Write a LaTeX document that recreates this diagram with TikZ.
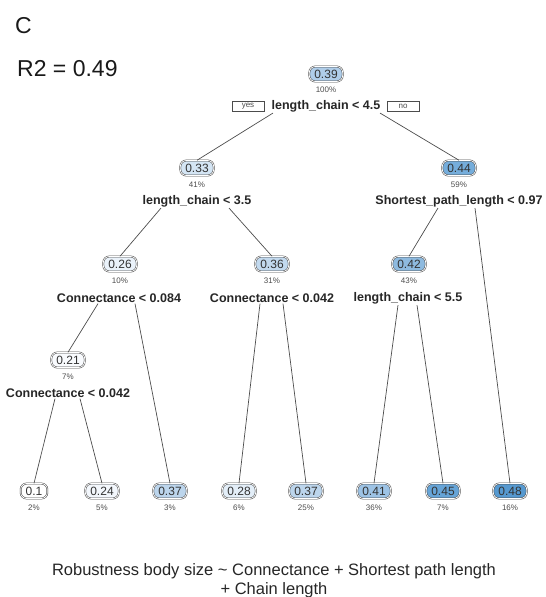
\documentclass[tikz,border=0pt]{standalone}
\usepackage{fontspec}
\setmainfont{Liberation Sans}
\usetikzlibrary{calc}
\definecolor{cA}{HTML}{FFFFFF}
\definecolor{cB}{HTML}{F9FBFE}
\definecolor{cC}{HTML}{F3F7FC}
\definecolor{cD}{HTML}{EAF2FA}
\definecolor{cE}{HTML}{E3EEF8}
\definecolor{cF}{HTML}{D4E5F4}
\definecolor{cG}{HTML}{C2D9EE}
\definecolor{cH}{HTML}{BCD5EC}
\definecolor{cI}{HTML}{AFCDE9}
\definecolor{cJ}{HTML}{9DC3E5}
\definecolor{cK}{HTML}{8EBADF}
\definecolor{cL}{HTML}{75ADDB}
\definecolor{cM}{HTML}{66A4D7}
\definecolor{cN}{HTML}{5699D0}
\begin{document}
\begin{tikzpicture}[x=1pt,y=-1pt,
 val/.style={draw=black!72, double=white, double distance=0.8pt, line width=0.5pt,
   rounded corners=6pt, minimum height=15pt, inner xsep=5pt, inner ysep=0pt,
   font=\fontsize{12}{12}\selectfont, text=black!80},
 pct/.style={font=\fontsize{8}{8}\selectfont, text=black!70, inner sep=0pt},
 split/.style={font=\bfseries\fontsize{12.5}{13}\selectfont, inner sep=1pt, text=black!85},
 edge/.style={draw=black!70, line width=0.7pt},
 yn/.style={draw=black!70, line width=0.5pt, minimum width=32pt, minimum height=10pt,
   inner sep=0pt, font=\fontsize{8}{8}\selectfont, text=black!70},
 big/.style={font=\fontsize{23}{23}\selectfont, inner sep=0pt, anchor=base west, text=black!90},
 captxt/.style={font=\fontsize{16.5}{16.5}\selectfont, inner sep=0pt, anchor=base, text=black!85}
]
\useasboundingbox (0,0) rectangle (546,597);

\node[big] (lc) at (15,33) {C};
\node[big] (r2) at (17,76) {R2 = 0.49};

% root
\node[val, fill=cI] (n1) at (326,74) {0.39};
\node[pct] (p1) at (326,90) {100\%};
\node[split] (s1) at (326,106) {length\_chain < 4.5};
\node[yn] (yes) at (248,106) {yes};
\node[yn] (no) at (403,106) {no};

% level 1
\node[val, fill=cF] (n2) at (197,168) {0.33};
\node[pct] (p2) at (197,185) {41\%};
\node[split] (s2) at (197,201) {length\_chain < 3.5};
\node[val, fill=cL] (n3) at (459,168) {0.44};
\node[pct] (p3) at (459,185) {59\%};
\node[split] (s3) at (459,201) {Shortest\_path\_length < 0.97};

% level 2
\node[val, fill=cD] (n4) at (120,264) {0.26};
\node[pct] (p4) at (120,281) {10\%};
\node[split] (s4) at (119,298) {Connectance < 0.084};
\node[val, fill=cG] (n5) at (272,264) {0.36};
\node[pct] (p5) at (272,281) {31\%};
\node[split] (s5) at (272,298) {Connectance < 0.042};
\node[val, fill=cK] (n6) at (409,264) {0.42};
\node[pct] (p6) at (409,281) {43\%};
\node[split] (s6) at (408,298) {length\_chain < 5.5};

% level 3
\node[val, fill=cB] (n7) at (68,360) {0.21};
\node[pct] (p7) at (68,377) {7\%};
\node[split] (s7) at (68,393) {Connectance < 0.042};

% leaves
\node[val, fill=cA] (l1) at (34,491) {0.1};
\node[pct] at (34,508) {2\%};
\node[val, fill=cC] (l2) at (102,491) {0.24};
\node[pct] at (102,508) {5\%};
\node[val, fill=cH] (l3) at (170,491) {0.37};
\node[pct] at (170,508) {3\%};
\node[val, fill=cE] (l4) at (239,491) {0.28};
\node[pct] at (239,508) {6\%};
\node[val, fill=cH] (l5) at (306,491) {0.37};
\node[pct] at (306,508) {25\%};
\node[val, fill=cJ] (l6) at (374,491) {0.41};
\node[pct] at (374,508) {36\%};
\node[val, fill=cM] (l7) at (443,491) {0.45};
\node[pct] at (443,508) {7\%};
\node[val, fill=cN] (l8) at (510,491) {0.48};
\node[pct] at (510,508) {16\%};

% branch start points
\coordinate (a1l) at ($(s1.south)+(-53,0)$);
\coordinate (a1r) at ($(s1.south)+(54,0)$);
\coordinate (a2l) at ($(s2.south)+(-36,0)$);
\coordinate (a2r) at ($(s2.south)+(32,0)$);
\coordinate (a3l) at ($(s3.south)+(-21,0)$);
\coordinate (a3r) at ($(s3.south)+(16,0)$);
\coordinate (a4l) at ($(s4.south)+(-21,0)$);
\coordinate (a4r) at ($(s4.south)+(16,0)$);
\coordinate (a5l) at ($(s5.south)+(-12,0)$);
\coordinate (a5r) at ($(s5.south)+(11,0)$);
\coordinate (a6l) at ($(s6.south)+(-10,0)$);
\coordinate (a6r) at ($(s6.south)+(9,0)$);
\coordinate (a7l) at ($(s7.south)+(-13,0)$);
\coordinate (a7r) at ($(s7.south)+(12,0)$);

\draw[edge] (a1l) -- (n2.north);
\draw[edge] (a1r) -- (n3.north);
\draw[edge] (a2l) -- (n4.north);
\draw[edge] (a2r) -- (n5.north);
\draw[edge] (a3l) -- (n6.north);
\draw[edge] (a3r) -- (l8.north);
\draw[edge] (a4l) -- (n7.north);
\draw[edge] (a4r) -- (l3.north);
\draw[edge] (a5l) -- (l4.north);
\draw[edge] (a5r) -- (l5.north);
\draw[edge] (a6l) -- (l6.north);
\draw[edge] (a6r) -- (l7.north);
\draw[edge] (a7l) -- (l1.north);
\draw[edge] (a7r) -- (l2.north);

\node[captxt] (c1) at (274,575) {Robustness body size \textasciitilde{} Connectance + Shortest path length};
\node[captxt] (c2) at (274,594) {+ Chain length};
\end{tikzpicture}
\end{document}
